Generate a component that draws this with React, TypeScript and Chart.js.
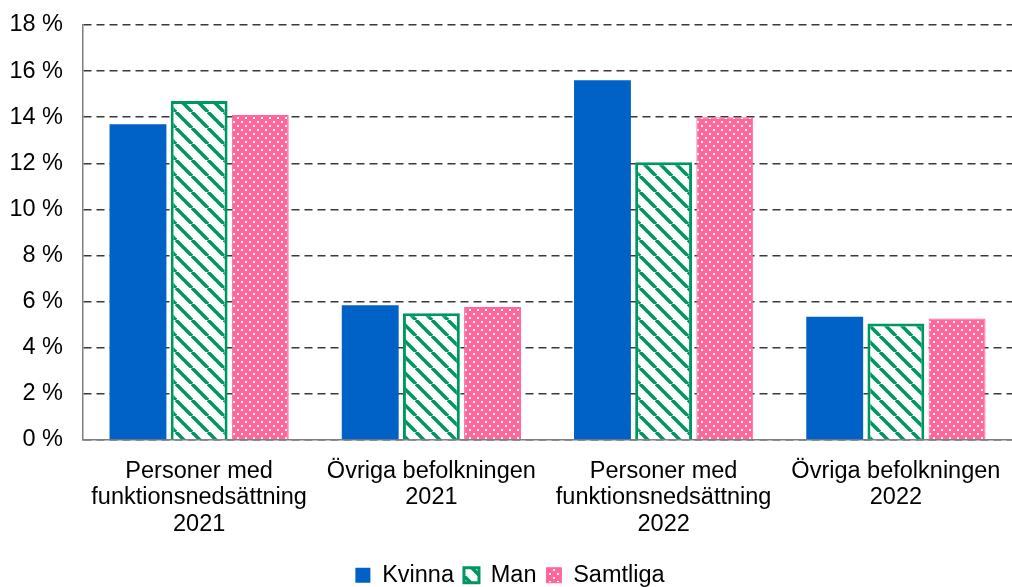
import React, { useEffect, useRef } from "react";
import { Chart, registerables } from "chart.js";

Chart.register(...registerables);

const categories: string[][] = [
  ["Personer med", "funktionsnedsättning", "2021"],
  ["Övriga befolkningen", "2021"],
  ["Personer med", "funktionsnedsättning", "2022"],
  ["Övriga befolkningen", "2022"],
];
const kvinna = [13.7, 5.85, 15.6, 5.35];
const man = [14.7, 5.5, 12.05, 5.05];
const samtliga = [14.1, 5.77, 14.0, 5.27];
const seriesNames = ["Kvinna", "Man", "Samtliga"];

const BLUE = "#0061C6";
const GREEN = "#00965F";
const PINK = "#FF6699";

function stripePattern(ctx: CanvasRenderingContext2D): CanvasPattern | string {
  const s = 16;
  const c = document.createElement("canvas");
  c.width = s;
  c.height = s;
  const g = c.getContext("2d")!;
  g.fillStyle = "#ffffff";
  g.fillRect(0, 0, s, s);
  g.strokeStyle = GREEN;
  g.lineWidth = 3.6;
  for (let k = -1; k <= 1; k++) {
    g.beginPath();
    g.moveTo(k * s, 0);
    g.lineTo(k * s + s, s);
    g.stroke();
  }
  return ctx.createPattern(c, "repeat") || GREEN;
}

function dotPattern(ctx: CanvasRenderingContext2D): CanvasPattern | string {
  const s = 8;
  const c = document.createElement("canvas");
  c.width = s;
  c.height = s;
  const g = c.getContext("2d")!;
  g.fillStyle = PINK;
  g.fillRect(0, 0, s, s);
  g.fillStyle = "#ffffff";
  g.fillRect(1, 1, 2, 2);
  g.fillRect(5, 5, 2, 2);
  return ctx.createPattern(c, "repeat") || PINK;
}

export default function App() {
  const ref = useRef<HTMLCanvasElement | null>(null);
  useEffect(() => {
    document.body.style.margin = "0";
    const canvas = ref.current!;
    const ctx = canvas.getContext("2d")!;
    const font = { family: "'Liberation Sans', Arial, sans-serif", size: 23.5 };
    const chart = new Chart(ctx, {
      type: "bar",
      data: {
        labels: categories,
        datasets: [
          {
            label: seriesNames[0],
            data: kvinna,
            backgroundColor: BLUE,
            borderWidth: 0,
          },
          {
            label: seriesNames[1],
            data: man,
            backgroundColor: stripePattern(ctx) as any,
            borderColor: GREEN,
            borderWidth: 3,
          },
          {
            label: seriesNames[2],
            data: samtliga,
            backgroundColor: dotPattern(ctx) as any,
            borderColor: PINK,
            borderWidth: 1,
          },
        ],
      },
      options: {
        animation: false,
        responsive: false,
        maintainAspectRatio: false,
        layout: { padding: { top: 25, right: -8, bottom: -10, left: 0 } },
        datasets: {
          bar: { categoryPercentage: 0.79, barPercentage: 0.93 },
        } as any,
        scales: {
          x: {
            afterFit: (s: any) => {
              s.height = 113.5;
              s.paddingLeft = 0;
              s.paddingRight = 0;
            },
            grid: { display: false, drawTicks: false },
            border: { display: true, color: "#7f7f7f", width: 1.5 },
            ticks: {
              color: "#000",
              font: { ...font, lineHeight: 1.13 },
              padding: 18,
              maxRotation: 0,
              autoSkip: false,
            },
          },
          y: {
            min: 0,
            max: 18,
            afterFit: (s: any) => {
              s.width = 83;
              s.paddingTop = 0;
              s.paddingBottom = 0;
            },
            ticks: {
              stepSize: 2,
              color: "#000",
              font,
              padding: 20,
              callback: (v: any) => `${v} %`,
            },
            grid: {
              color: "#3a3a3a",
              lineWidth: 1.5,
              drawTicks: false,
            },
            border: { display: true, color: "#7f7f7f", width: 1.5, dash: [8, 5] },
          },
        },
        plugins: {
          legend: {
            position: "bottom",
            labels: {
              color: "#000",
              font,
              boxWidth: 15,
              boxHeight: 15,
              padding: 10,
            },
          },
          tooltip: { enabled: false },
        },
      } as any,
    });
    return () => chart.destroy();
  }, []);
  return (
    <div style={{ position: "absolute", left: 0, top: 0, width: 1012, height: 587 }}>
      <canvas ref={ref} width={1012} height={587} style={{ width: 1012, height: 587 }} />
    </div>
  );
}
